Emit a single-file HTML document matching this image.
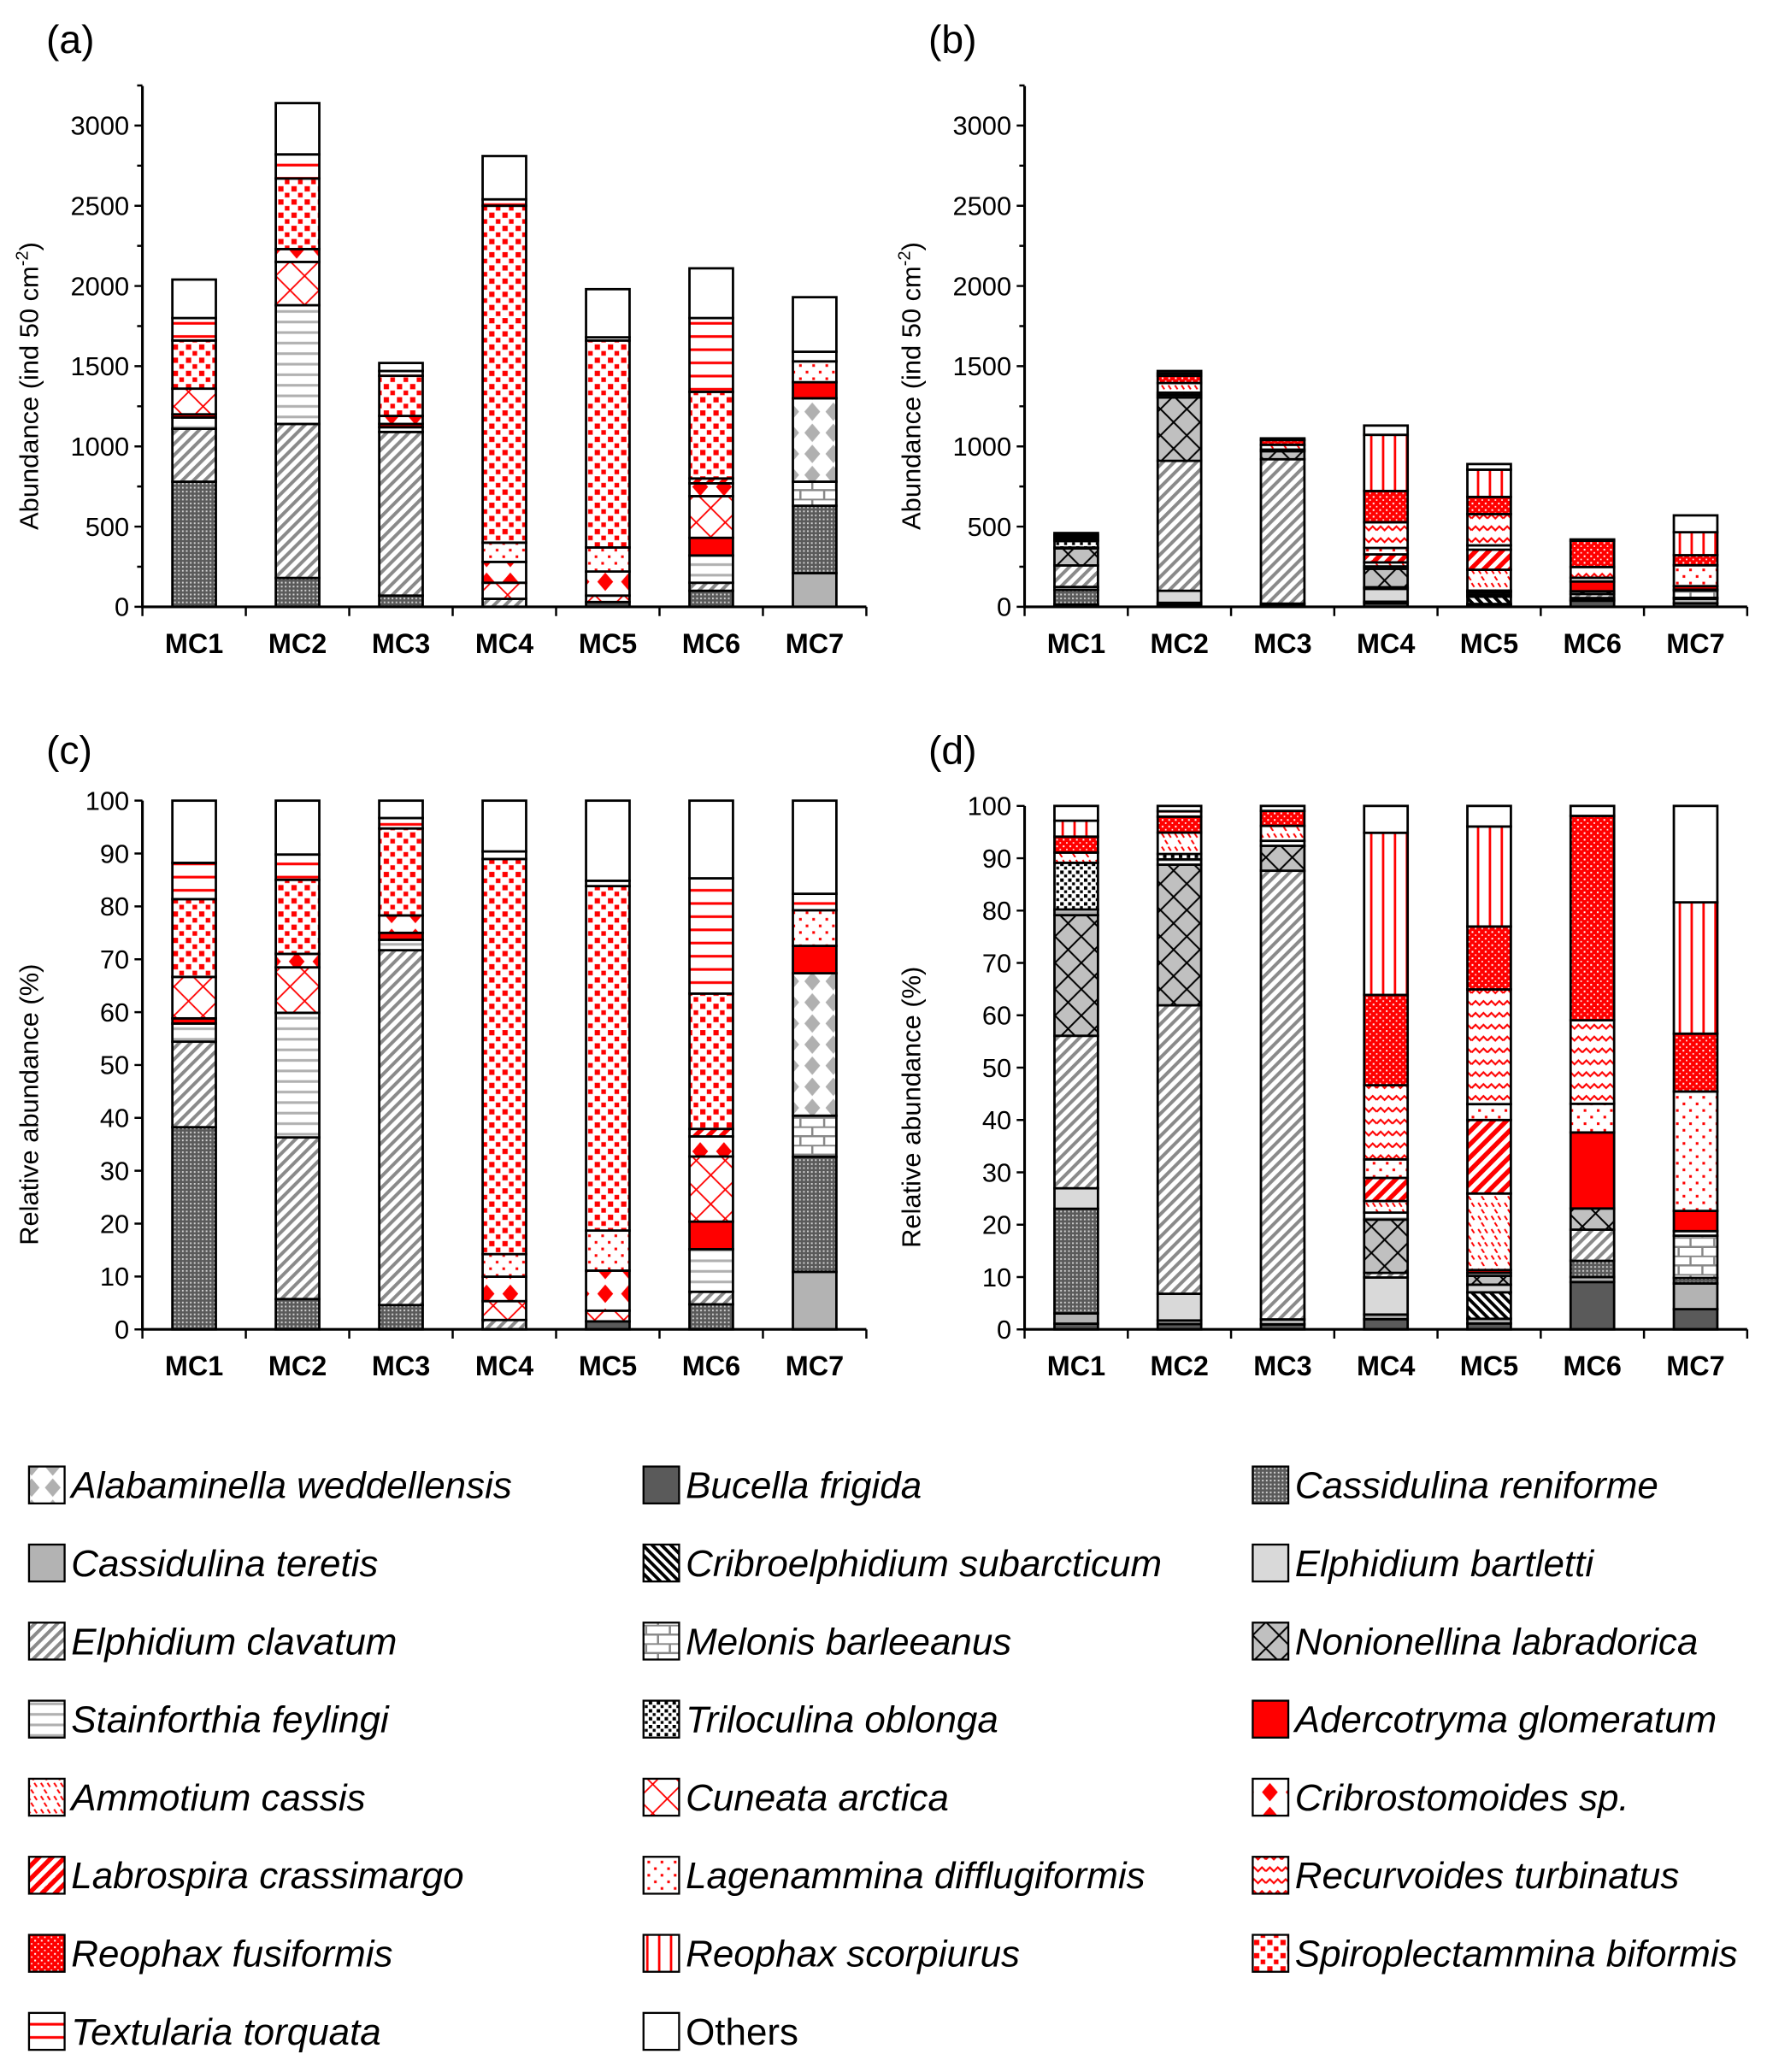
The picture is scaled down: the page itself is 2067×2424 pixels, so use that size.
<!DOCTYPE html>
<html><head><meta charset="utf-8"><style>
html,body{margin:0;padding:0;background:#fff}
svg{display:block}
text{font-family:"Liberation Sans",sans-serif;fill:#000}
</style></head><body>
<svg id="chart" width="2067" height="2424" viewBox="0 0 1340 1571" xmlns="http://www.w3.org/2000/svg">
<defs>
<pattern id="p0" patternUnits="userSpaceOnUse" width="16" height="16"><rect width="16" height="16" fill="#fff"/><polygon points="8,1 14,8 8,15 2,8" fill="#b0b0b0"/></pattern>
<pattern id="p2" patternUnits="userSpaceOnUse" width="3" height="3"><rect width="3" height="3" fill="#5a5a5a"/><rect width="1.3" height="1.3" fill="#d0d0d0"/></pattern>
<pattern id="p4" patternUnits="userSpaceOnUse" width="5" height="5" patternTransform="rotate(-45)"><rect width="5" height="5" fill="#fff"/><rect width="2.5" height="5" fill="#000"/></pattern>
<pattern id="p6" patternUnits="userSpaceOnUse" width="6" height="6" patternTransform="rotate(45)"><rect width="6" height="6" fill="#fff"/><rect width="2.6" height="6" fill="#8a8a8a"/></pattern>
<pattern id="p7" patternUnits="userSpaceOnUse" width="18" height="14"><rect width="18" height="14" fill="#fff"/><path d="M0 0.5H18M0 7.5H18M4 0V7M13 7V14" stroke="#888" stroke-width="1.6" fill="none"/></pattern>
<pattern id="p8" patternUnits="userSpaceOnUse" width="20" height="20"><rect width="20" height="20" fill="#c0c0c0"/><path d="M0 10L10 0L20 10L10 20Z" stroke="#000" stroke-width="1.3" fill="none"/></pattern>
<pattern id="p9" patternUnits="userSpaceOnUse" width="8" height="8"><rect width="8" height="8" fill="#fff"/><rect y="3" width="8" height="2" fill="#b0b0b0"/></pattern>
<pattern id="p10" patternUnits="userSpaceOnUse" width="6" height="6"><rect width="6" height="6" fill="#fff"/><rect width="2.6" height="2.6" fill="#000"/><rect x="3" y="3" width="2.2" height="2.2" fill="#000"/></pattern>
<pattern id="p12" patternUnits="userSpaceOnUse" width="10" height="10"><rect width="10" height="10" fill="#fff"/><path d="M1 2L3 5M6 2L8 5M3.5 7L5.5 10" stroke="#f00" stroke-width="1.3"/></pattern>
<pattern id="p13" patternUnits="userSpaceOnUse" width="22" height="22"><rect width="22" height="22" fill="#fff"/><path d="M0 0L22 22M22 0L0 22" stroke="#f00" stroke-width="1.2"/></pattern>
<pattern id="p14" patternUnits="userSpaceOnUse" width="18" height="18"><rect width="18" height="18" fill="#fff"/><polygon points="9,2 15,9 9,16 3,9" fill="#f00"/></pattern>
<pattern id="p15" patternUnits="userSpaceOnUse" width="7" height="7" patternTransform="rotate(45)"><rect width="7" height="7" fill="#fff"/><rect width="3.5" height="7" fill="#f00"/></pattern>
<pattern id="p16" patternUnits="userSpaceOnUse" width="10" height="10"><rect width="10" height="10" fill="#fff"/><rect x="1" y="1" width="2" height="2" fill="#f00"/><rect x="6" y="6" width="2" height="2" fill="#f00"/></pattern>
<pattern id="p17" patternUnits="userSpaceOnUse" width="12" height="9"><rect width="12" height="9" fill="#fff"/><path d="M0 6L3 3L6 6L9 3L12 6" stroke="#f00" stroke-width="1.4" fill="none"/></pattern>
<pattern id="p18" patternUnits="userSpaceOnUse" width="5" height="5"><rect width="5" height="5" fill="#f00"/><rect x="1" y="1" width="1.3" height="1.3" fill="#fff"/><rect x="3.5" y="3.5" width="1.1" height="1.1" fill="#fff"/></pattern>
<pattern id="p19" patternUnits="userSpaceOnUse" width="9" height="9"><rect width="9" height="9" fill="#fff"/><rect x="4" width="1.8" height="9" fill="#f00"/></pattern>
<pattern id="p20" patternUnits="userSpaceOnUse" width="10" height="10"><rect width="10" height="10" fill="#fff"/><rect x="1" y="1" width="4" height="4" fill="#f00"/><rect x="6" y="6" width="3.5" height="3.5" fill="#f00"/></pattern>
<pattern id="p21" patternUnits="userSpaceOnUse" width="10" height="10"><rect width="10" height="10" fill="#fff"/><rect y="4" width="10" height="2" fill="#f00"/></pattern>
</defs>
<g id="plots"></g>
<g id="legend"></g>
</svg>
<script>
const categories = ['MC1','MC2','MC3','MC4','MC5','MC6','MC7'];
const speciesNames = ['Bucella frigida','Cassidulina teretis','Cassidulina reniforme','Cribroelphidium subarcticum','Elphidium bartletti','Elphidium clavatum','Melonis barleeanus','Alabaminella weddellensis','Nonionellina labradorica','Stainforthia feylingi','Triloculina oblonga','Adercotryma glomeratum','Ammotium cassis','Cuneata arctica','Cribrostomoides sp.','Labrospira crassimargo','Lagenammina difflugiformis','Recurvoides turbinatus','Reophax fusiformis','Reophax scorpiurus','Spiroplectammina biformis','Textularia torquata','Others'];
const speciesFills = ['#5a5a5a','#b3b3b3','url(#p2)','url(#p4)','#d9d9d9','url(#p6)','url(#p7)','url(#p0)','url(#p8)','url(#p9)','url(#p10)','#ff0000','url(#p12)','url(#p13)','url(#p14)','url(#p15)','url(#p16)','url(#p17)','url(#p18)','url(#p19)','url(#p20)','url(#p21)','#ffffff'];
// rows follow speciesNames order; columns MC1..MC7 (ind 50 cm-2)
const abundanceA = [
[0,0,0,0,30,0,0],
[0,0,0,0,0,0,210],
[780,180,70,0,0,100,420],
[0,0,0,0,0,0,0],
[0,0,0,0,0,0,0],
[330,960,1020,50,0,50,0],
[0,0,0,0,0,0,150],
[0,0,0,0,0,0,520],
[0,0,0,0,0,0,0],
[70,740,30,0,0,170,0],
[0,0,0,0,0,0,0],
[20,0,20,0,0,110,100],
[0,0,0,0,0,0,0],
[160,270,0,100,40,260,0],
[0,80,50,130,150,80,0],
[0,0,0,0,0,30,0],
[0,0,0,120,150,0,130],
[0,0,0,0,0,0,0],
[0,0,0,0,0,0,0],
[0,0,0,0,0,0,0],
[300,440,250,2100,1290,540,0],
[140,150,30,40,20,460,60],
[240,320,50,270,300,310,340]];
const abundanceB = [
[5,15,10,22,10,38,22],
[9,10,10,10,8,4,28],
[92,0,0,0,0,13,6],
[0,0,0,0,45,0,0],
[18,75,0,80,13,0,0],
[134,810,900,10,0,25,0],
[0,0,0,0,0,0,46],
[0,0,0,0,0,0,0],
[106,395,50,115,15,17,0],
[5,15,10,15,5,0,5],
[41,15,0,0,0,0,0],
[0,0,0,0,5,61,22],
[9,60,30,25,130,0,0],
[0,0,0,0,0,0,0],
[0,0,0,0,0,0,0],
[0,0,0,50,125,0,0],
[0,0,0,40,27,23,130],
[0,0,0,160,195,67,0],
[14,45,30,195,107,164,63],
[14,0,0,350,170,0,143],
[0,0,0,0,0,0,0],
[0,15,0,0,0,0,0],
[13,15,10,58,35,8,105]];
const absTicks = [0,500,1000,1500,2000,2500,3000];
const pctTicks = [0,10,20,30,40,50,60,70,80,90,100];
const legendOrder = [7,0,2,1,3,4,5,6,8,9,10,11,12,13,14,15,16,17,18,19,20,21,22];

const NS='http://www.w3.org/2000/svg';
function mk(tag,attrs,parent){const e=document.createElementNS(NS,tag);for(const k in attrs)e.setAttribute(k,attrs[k]);parent.appendChild(e);return e;}
const plots=document.getElementById('plots');
const BW=33;

function drawPanel(cfg){
  const g=mk('g',{},plots);
  
  
  const y=v=>cfg.y0-(v-0)*(cfg.y0-cfg.yRef)/cfg.ref;
  const band=(cfg.x1-cfg.x0)/categories.length;
  const xc=i=>cfg.x0+band*(i+0.5);
  const lab=mk('text',{x:cfg.x0-73,y:cfg.titleY,'font-size':30},g);lab.textContent='('+cfg.id+')';
  
  
  categories.forEach((c,i)=>{
    let total=0;cfg.data.forEach(r=>total+=r[i]);
    let acc=0;
    cfg.data.forEach((r,s)=>{
      let v=r[i]; if(v<=0)return;
      if(cfg.pct){v=v/total*100;}
      const top=y(acc+v),bot=y(acc);
      const rc=mk('rect',{x:xc(i)-BW/2,y:top,width:BW,height:bot-top,fill:speciesFills[s],stroke:'#000','stroke-width':1.8},g);
      
      
      acc+=v;
    });
  });
  const ax=mk('path',{d:`M${cfg.x0} ${cfg.yTop}V${cfg.y0}H${cfg.x1}`,stroke:'#000','stroke-width':2,fill:'none'},g);
  
  
  let tk='';
  cfg.ticks.forEach(t=>{tk+=`M${cfg.x0-6} ${y(t)}H${cfg.x0}`;});
  if(!cfg.pct){for(let t=250;t<=3250;t+=500)tk+=`M${cfg.x0-4} ${y(t)}H${cfg.x0}`;}
  for(let i=0;i<=categories.length;i++){tk+=`M${cfg.x0+band*i} ${cfg.y0}V${cfg.y0+7}`;}
  mk('path',{d:tk,stroke:'#000','stroke-width':1.6},g);
  cfg.ticks.forEach(t=>{
    const e=mk('text',{x:cfg.x0-10,y:y(t)+7,'font-size':20,'text-anchor':'end'},g);e.textContent=t;
    
    
  });
  categories.forEach((c,i)=>{
    const e=mk('text',{x:xc(i),y:cfg.y0+35,'font-size':21,'font-weight':'bold','text-anchor':'middle'},g);e.textContent=c;
    
    
  });
  const yt=mk('text',{x:0,y:0,'font-size':20,'text-anchor':'middle',transform:`translate(${cfg.x0-79},${(cfg.y0+cfg.yTop)/2+30}) rotate(-90)`},g);
  
  
  if(cfg.pct){yt.textContent='Relative abundance (%)';}
  else{yt.innerHTML='Abundance (ind  50 cm<tspan font-size="13" dy="-8">-2</tspan><tspan dy="8">)</tspan>';}
}
drawPanel({id:'a',data:abundanceA,pct:false,x0:108,x1:657,y0:460,yRef:95,ref:3000,yTop:65,ticks:absTicks,titleY:40});
drawPanel({id:'b',data:abundanceB,pct:false,x0:777,x1:1325,y0:460,yRef:95,ref:3000,yTop:65,ticks:absTicks,titleY:40});
drawPanel({id:'c',data:abundanceA,pct:true,x0:108,x1:657,y0:1008,yRef:607,ref:100,yTop:607,ticks:pctTicks,titleY:579});
drawPanel({id:'d',data:abundanceB,pct:true,x0:777,x1:1325,y0:1008,yRef:611,ref:100,yTop:611,ticks:pctTicks,titleY:579});

const leg=document.getElementById('legend');


const colX=[22,488,950];
legendOrder.forEach((s,k)=>{
  const col=k%3,row=Math.floor(k/3);
  const cy=1126+row*59.2;
  const g=mk('g',{},leg);
  
  
  mk('rect',{x:colX[col],y:cy-14,width:27,height:28,fill:speciesFills[s],stroke:'#000','stroke-width':1.5},g);
  const t=mk('text',{x:colX[col]+32,y:cy+10,'font-size':28.5,'font-style':s===22?'normal':'italic'},g);
  t.textContent=speciesNames[s];
});
</script>
</body></html>
